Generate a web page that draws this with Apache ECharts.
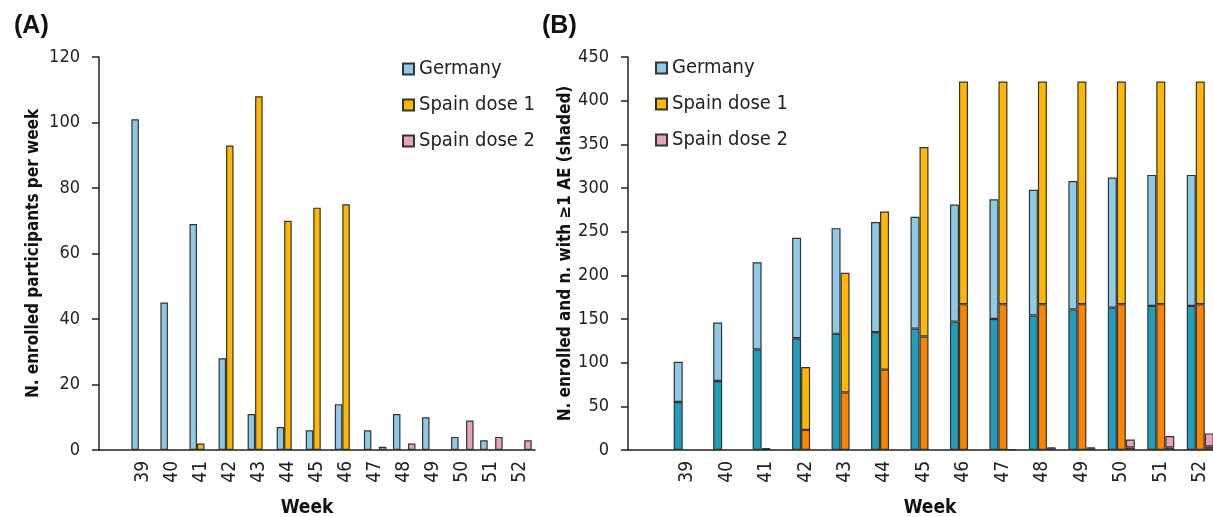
<!DOCTYPE html>
<html><head><meta charset="utf-8">
<script src="https://cdn.jsdelivr.net/npm/echarts@6/dist/echarts.min.js"></script>
<style>html,body{margin:0;padding:0;background:#fff}#c{width:1213px;height:517px}</style>
</head><body><div id="c"></div>
<script>
const weeks = ['', '39','40','41','42','43','44','45','46','47','48','49','50','51','52'];
// Panel A: weekly enrolment
const germanyWeekly = [null,101,45,69,28,11,7,6,14,6,11,10,4,3,0];
const spain1Weekly  = [null,0,0,2,93,108,70,74,75,0,0,0,0,0,0];
const spain2Weekly  = [null,0,0,0,0,0,0,0,0,1,2,0,9,4,3];
// Panel B: cumulative enrolment and n. with >=1 AE
const germanyCum = [null,101,146,215,243,254,261,267,281,287,298,308,312,315,315];
const germanyAE  = [null,55,79,115,128,133,135,139,147,150,154,161,163,165,165];
const spain1Cum  = [null,0,0,2,95,203,273,347,422,422,422,422,422,422,422];
const spain1AE   = [null,0,0,1,23,66,92,130,167,167,167,167,167,167,167];
const spain2Cum  = [null,0,0,0,0,0,0,0,0,1,3,3,12,16,19];
const spain2AE   = [null,0,0,0,0,0,0,0,0,1,2,2,3,3,4];

const FONT = "'DejaVu Sans Condensed','Roboto',sans-serif";
const names = ['Germany','Spain dose 1','Spain dose 2'];
const light = ['#8ecae6','#ffb703','#e8a3b8'];
const dark  = ['#219ebc','#fb8500','#9c3456'];
const border = '#333';

const nz = v => (v === null || v === 0) ? '-' : v;
const diff = (a,b) => a.map((v,i)=> v===null ? '-' : nz(v - b[i]));

const chart = echarts.init(document.getElementById('c'));
const commonX = (gi, pad) => ({
  type:'category', gridIndex:gi, data:weeks,
  axisLine:{lineStyle:{color:'#222',width:1.5}},
  axisTick:{show:false},
  axisLabel:{rotate:90, fontFamily:FONT, fontSize:19, color:'#222', margin:11, interval:0},
  name:'Week', nameLocation:'middle', nameGap:49,
  nameTextStyle:{fontFamily:FONT, fontWeight:'bold', fontSize:19, color:'#111', padding:pad}
});
const commonY = (gi, max, interval, name, gap) => ({
  type:'value', gridIndex:gi, min:0, max:max, interval:interval,
  axisLine:{show:true, lineStyle:{color:'#222',width:1.5}},
  axisTick:{show:true, length:7, lineStyle:{color:'#222',width:1.5}},
  splitLine:{show:false},
  axisLabel:{fontFamily:FONT, fontSize:18, color:'#222', margin:19},
  name:name, nameLocation:'middle', nameGap:gap, nameRotate:90,
  nameTextStyle:{fontFamily:FONT, fontWeight:'bold', fontSize:17, color:'#111'}
});

const seriesA = [germanyWeekly, spain1Weekly, spain2Weekly].map((d,i)=>({
  type:'bar', name:names[i], xAxisIndex:0, yAxisIndex:0,
  data:d.map(nz), barWidth:7.5, barGap:'0%',
  itemStyle:{color:light[i], borderColor:border, borderWidth:1.2}
}));
const cums = [germanyCum, spain1Cum, spain2Cum];
const aes = [germanyAE, spain1AE, spain2AE];
const seriesB = [];
for (let i=0;i<3;i++){
  seriesB.push({type:'bar', name:names[i]+' AE', stack:'s'+i, xAxisIndex:1, yAxisIndex:1,
    data:aes[i].map(nz), barWidth:9, barGap:'0%',
    itemStyle:{color:dark[i], borderColor:border, borderWidth:1.2}});
  seriesB.push({type:'bar', name:names[i], stack:'s'+i, xAxisIndex:1, yAxisIndex:1,
    data:diff(cums[i], aes[i]), barWidth:9, barGap:'0%',
    itemStyle:{color:light[i], borderColor:border, borderWidth:1.2}});
}
const legendCommon = {
  orient:'vertical', data:names, itemWidth:11, itemHeight:11, itemGap:16, icon:'rect',
  textStyle:{fontFamily:FONT, fontSize:20, color:'#222'}
};
chart.setOption({
  animation:false,
  title:[
    {text:'(A)', left:9, top:9, textStyle:{fontFamily:'Liberation Sans, Arial, sans-serif', fontWeight:'bold', fontSize:25, color:'#111'}},
    {text:'(B)', left:537, top:9, textStyle:{fontFamily:'Liberation Sans, Arial, sans-serif', fontWeight:'bold', fontSize:25, color:'#111'}}
  ],
  legend:[
    Object.assign({left:397, top:54}, legendCommon),
    Object.assign({left:650, top:53}, legendCommon)
  ],
  grid:[
    {left:99, top:57, width:436, height:393, outerBoundsMode:'none', containLabel:false},
    {left:628, top:57, width:592, height:393, outerBoundsMode:'none', containLabel:false}
  ],
  xAxis:[commonX(0,[0,20,0,0]), commonX(1,[0,0,0,12])],
  yAxis:[commonY(0,120,20,'N. enrolled participants per week',57),
         commonY(1,450,50,'N. enrolled and n. with ≥1 AE (shaded)',52)],
  series:[...seriesA, ...seriesB]
});
</script></body></html>
